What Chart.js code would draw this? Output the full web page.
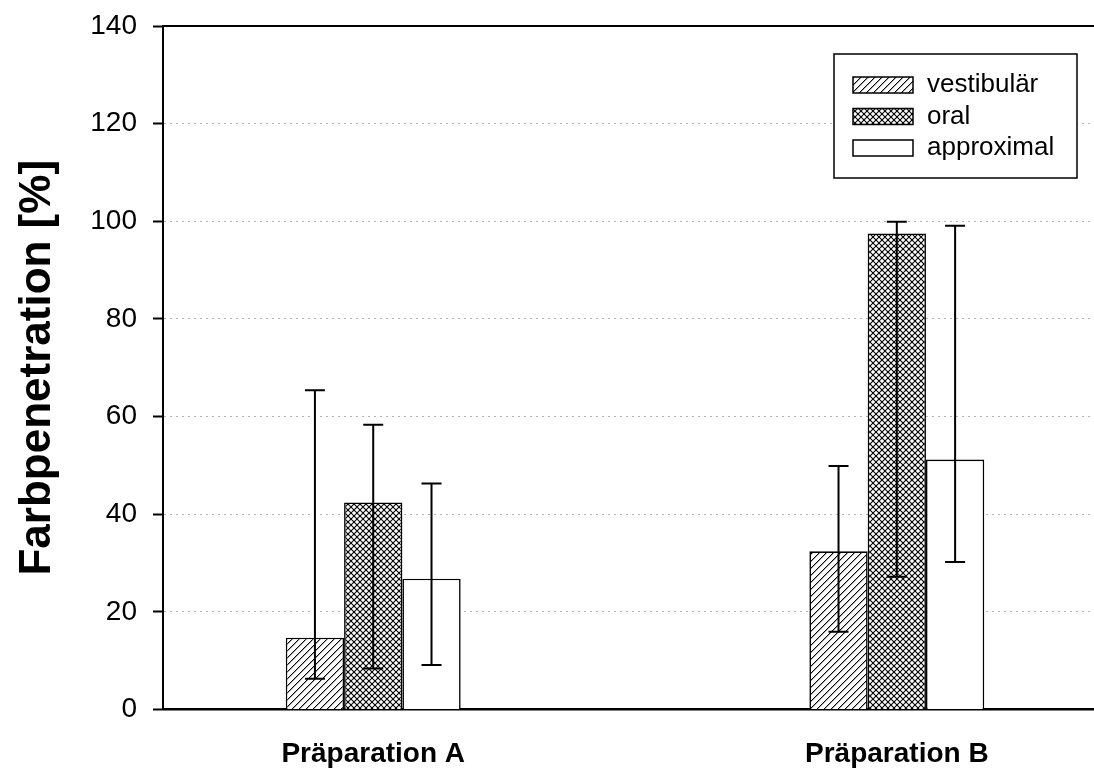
<!DOCTYPE html>
<html>
<head>
<meta charset="utf-8">
<script src="https://cdn.jsdelivr.net/npm/chart.js@4.4.0/dist/chart.umd.min.js"></script>
<style>
  html, body { margin: 0; padding: 0; background: #fff; }
  canvas { display: block; }
</style>
</head>
<body>
<canvas id="chart" width="1094" height="770"></canvas>
<script>
// Categories and series
const categories = ['Präparation A', 'Präparation B'];
const seriesNames = ['vestibulär', 'oral', 'approximal'];

// Mean dye penetration per group [%]
const vestibular = [14.7, 32.4];
const oral = [42.4, 97.5];
const approximal = [26.8, 51.2];

// Lower / upper ends of the error bars [%]
const vestibularLow = [6.3, 15.9];
const vestibularHigh = [65.4, 49.9];
const oralLow = [8.4, 27.2];
const oralHigh = [58.3, 99.9];
const approximalLow = [9.1, 30.2];
const approximalHigh = [46.3, 99.1];

// Y axis tick values
const yTicks = [0, 20, 40, 60, 80, 100, 120, 140];

const FONT = "'Liberation Sans', Arial, Helvetica, sans-serif";

// Fill patterns: single diagonal hatch (pixel staircase) and cross hatch
function singleHatch() {
  const s = 7;
  const c = document.createElement('canvas');
  c.width = s; c.height = s;
  const g = c.getContext('2d');
  g.fillStyle = '#fff';
  g.fillRect(0, 0, s, s);
  g.fillStyle = '#000';
  for (let i = 0; i < s; i++) g.fillRect(i, s - 1 - i, 1, 1);
  g.fillStyle = 'rgba(0,0,0,0.35)';
  for (let i = 0; i < s; i++) g.fillRect(i, (s - i) % s, 1, 1);
  return g.createPattern(c, 'repeat');
}

function crossHatch() {
  const s = 6;
  const c = document.createElement('canvas');
  c.width = s; c.height = s;
  const g = c.getContext('2d');
  g.fillStyle = '#fff';
  g.fillRect(0, 0, s, s);
  g.strokeStyle = '#000';
  g.lineWidth = 1.1;
  const seg = (x0, y0, x1, y1) => { g.beginPath(); g.moveTo(x0, y0); g.lineTo(x1, y1); g.stroke(); };
  seg(-1, s + 1, s + 1, -1);
  seg(-1, 1, 1, -1);
  seg(s - 1, s + 1, s + 1, s - 1);
  seg(-1, -1, s + 1, s + 1);
  seg(s - 1, -1, s + 1, 1);
  seg(-1, s - 1, 1, s + 1);
  return g.createPattern(c, 'repeat');
}

const fills = [singleHatch(), crossHatch(), '#ffffff'];
const seriesValues = [vestibular, oral, approximal];
const seriesLow = [vestibularLow, oralLow, approximalLow];
const seriesHigh = [vestibularHigh, oralHigh, approximalHigh];

const datasets = seriesNames.map((name, k) => ({
  label: name,
  data: seriesValues[k].map((v, i) => ({ x: i, y: v })),
  errLow: seriesLow[k],
  errHigh: seriesHigh[k],
  backgroundColor: fills[k],
  borderColor: '#000',
  borderWidth: 1.6,
  borderSkipped: 'start',
  categoryPercentage: 0.334,
  barPercentage: 1
}));

// Error bars with caps, drawn on top of the bars
const errorBars = {
  id: 'errorBars',
  afterDatasetsDraw(chart) {
    const ctx = chart.ctx;
    const y = chart.scales.y;
    chart.data.datasets.forEach((ds, di) => {
      const meta = chart.getDatasetMeta(di);
      meta.data.forEach((bar, i) => {
        const x = bar.x;
        const lo = y.getPixelForValue(ds.errLow[i]);
        const hi = y.getPixelForValue(ds.errHigh[i]);
        ctx.save();
        ctx.strokeStyle = '#000';
        ctx.lineWidth = 2;
        ctx.beginPath();
        ctx.moveTo(x, lo); ctx.lineTo(x, hi);
        ctx.moveTo(x - 10, hi); ctx.lineTo(x + 10, hi);
        ctx.moveTo(x - 10, lo); ctx.lineTo(x + 10, lo);
        ctx.stroke();
        ctx.restore();
      });
    });
  }
};

// Top frame line of the plot area
const topFrame = {
  id: 'topFrame',
  afterDraw(chart) {
    const { ctx, chartArea } = chart;
    ctx.save();
    ctx.strokeStyle = '#000';
    ctx.lineWidth = 2;
    ctx.beginPath();
    ctx.moveTo(chartArea.left, chartArea.top);
    ctx.lineTo(chartArea.right, chartArea.top);
    ctx.stroke();
    ctx.restore();
  }
};

// Boxed legend in the upper right of the plot
const boxLegend = {
  id: 'boxLegend',
  afterDraw(chart) {
    const ctx = chart.ctx;
    const box = { x: 834, y: 54, w: 243, h: 124 };
    ctx.save();
    ctx.fillStyle = '#fff';
    ctx.fillRect(box.x, box.y, box.w, box.h);
    ctx.strokeStyle = '#000';
    ctx.lineWidth = 1.5;
    ctx.strokeRect(box.x, box.y, box.w, box.h);
    ctx.font = '26px ' + FONT;
    ctx.textBaseline = 'middle';
    ctx.textAlign = 'left';
    chart.data.datasets.forEach((ds, k) => {
      const cy = 85 + k * 31.5;
      ctx.fillStyle = ds.backgroundColor;
      ctx.fillRect(853, cy - 8, 60, 16);
      ctx.lineWidth = 1.5;
      ctx.strokeStyle = '#000';
      ctx.strokeRect(853, cy - 8, 60, 16);
      ctx.fillStyle = '#000';
      ctx.fillText(ds.label, 927, cy);
    });
    ctx.restore();
  }
};

new Chart(document.getElementById('chart'), {
  type: 'bar',
  data: { datasets },
  plugins: [errorBars, topFrame, boxLegend],
  options: {
    responsive: false,
    animation: false,
    layout: { padding: { top: 26, right: 0, left: 0, bottom: 0 } },
    plugins: { legend: { display: false }, tooltip: { enabled: false } },
    scales: {
      x: {
        type: 'linear',
        min: -0.4015,
        max: 1.3766,
        offset: false,
        afterBuildTicks: s => { s.ticks = categories.map((_, i) => ({ value: i })); },
        ticks: {
          callback: (v, i) => categories[i],
          font: { family: FONT, size: 28, weight: 'bold' },
          color: '#000',
          padding: 28,
          maxRotation: 0,
          autoSkip: false
        },
        grid: { display: false, drawTicks: false, offset: false },
        border: { display: true, color: '#000', width: 2.5 },
        afterFit: s => { s.height = 60.5; s.paddingLeft = 0; s.paddingRight = 0; }
      },
      y: {
        min: 0,
        max: 140,
        afterBuildTicks: s => { s.ticks = yTicks.map(v => ({ value: v })); },
        ticks: { font: { family: FONT, size: 28 }, color: '#000', padding: 16 },
        grid: {
          color: c => (c.tick && (c.tick.value === 0 || c.tick.value === 140)) ? 'rgba(0,0,0,0)' : '#b4b4b4',
          lineWidth: 1,
          tickColor: '#000',
          tickLength: 10,
          tickWidth: 2
        },
        border: { display: true, color: '#000', width: 2, dash: [2, 4] },
        title: {
          display: true,
          text: 'Farbpenetration [%]',
          font: { family: FONT, size: 44, weight: 'bold' },
          color: '#000',
          padding: { top: 11, bottom: 0 }
        },
        afterFit: s => { s.width = 163; s.paddingTop = 0; s.paddingBottom = 0; }
      }
    }
  }
});
</script>
</body>
</html>
